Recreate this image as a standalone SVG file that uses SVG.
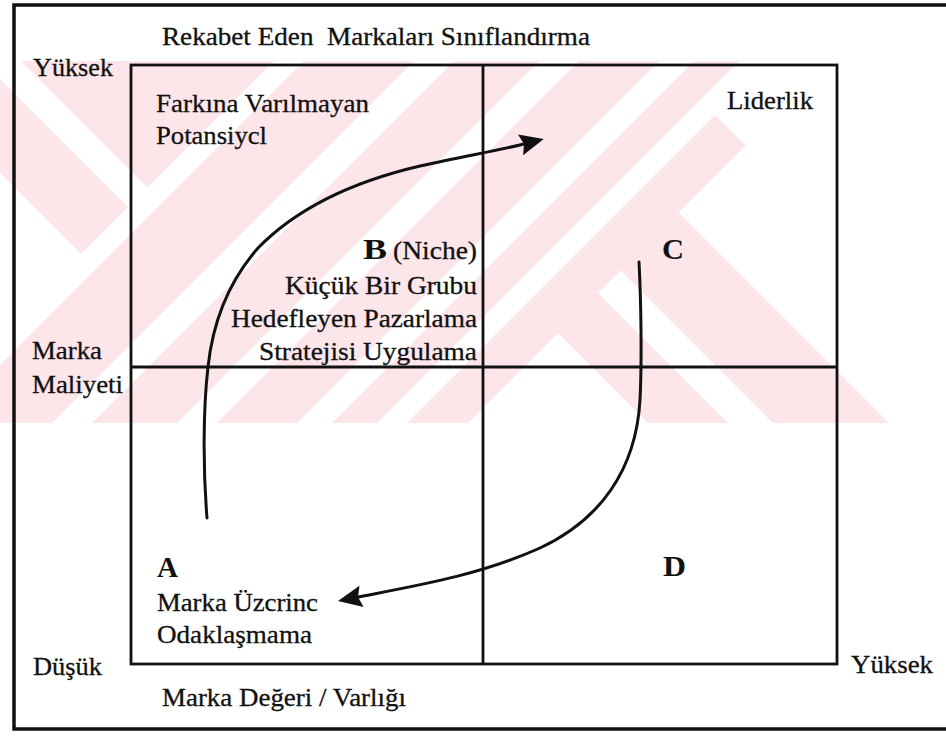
<svg xmlns="http://www.w3.org/2000/svg" width="946" height="736" viewBox="0 0 946 736">
<style>
.t{font-family:"Liberation Serif","Times New Roman",serif;font-size:25px;fill:#111;stroke:#111;stroke-width:0.3;white-space:pre}
.b{font-family:"Liberation Serif","Times New Roman",serif;font-size:30px;font-weight:bold;fill:#111}
.frame{fill:none;stroke:#111;stroke-width:3.5}
.grid{fill:none;stroke:#111;stroke-width:2.8}
.curve{fill:none;stroke:#111;stroke-width:3;stroke-linecap:round}
.wm{fill:#fde6ea}
</style>
<defs>
<marker id="ah" markerUnits="userSpaceOnUse" markerWidth="24" markerHeight="24" viewBox="0 0 20 18" refX="3" refY="9" orient="auto">
<path d="M0,0 L20,9 L0,18 L3,9 z" fill="#111"/>
</marker>
<clipPath id="wmclip"><rect x="0" y="61" width="946" height="362"/></clipPath>
</defs>
<rect width="946" height="736" fill="#ffffff"/>
<g id="watermark" clip-path="url(#wmclip)">
<polygon class="wm" points="21,61 274,61 147.5,187.5"/>
<polygon class="wm" points="-112,61 -18,61 128,207 81,254"/>
<polygon class="wm" points="304,61 414,61 52,423 -58,423"/>
<polygon class="wm" points="454,61 539,61 177,423 92,423"/>
<polygon class="wm" points="579,61 659,61 297,423 217,423"/>
<polygon class="wm" points="694,61 739,61 377,423 332,423"/>
<polygon class="wm" points="715,115 745.5,145.5 468,423 407,423"/>
<polygon class="wm" points="598,293 728,423 648,423 558,333"/>
<polygon class="wm" points="678.5,212.5 889,423 773,423 620.5,270.5"/>
</g>
<g id="frame">
<path class="frame" d="M946,5 H14 V729 H946"/>
</g>
<g id="matrix">
<rect class="grid" x="131" y="65" width="706" height="599"/>
<line class="grid" x1="483" y1="65" x2="483" y2="664"/>
<line class="grid" x1="131" y1="367" x2="837" y2="367"/>
</g>
<g id="labels">
<text class="t" x="162" y="45" textLength="428" lengthAdjust="spacingAndGlyphs">Rekabet Eden  Markaları Sınıflandırma</text>
<text class="t" x="33" y="76" textLength="80" lengthAdjust="spacingAndGlyphs">Yüksek</text>
<text class="t" x="32" y="359" textLength="70" lengthAdjust="spacingAndGlyphs">Marka</text>
<text class="t" x="32" y="393" textLength="91" lengthAdjust="spacingAndGlyphs">Maliyeti</text>
<text class="t" x="33" y="675" textLength="69" lengthAdjust="spacingAndGlyphs">Düşük</text>
<text class="t" x="851" y="673" textLength="82" lengthAdjust="spacingAndGlyphs">Yüksek</text>
<text class="t" x="162" y="706" textLength="244" lengthAdjust="spacingAndGlyphs">Marka Değeri / Varlığı</text>
</g>
<g id="quadrant-top-left">
<text class="t" x="156" y="112" textLength="213" lengthAdjust="spacingAndGlyphs">Farkına Varılmayan</text>
<text class="t" x="156" y="144" textLength="111" lengthAdjust="spacingAndGlyphs">Potansiycl</text>
</g>
<g id="quadrant-top-right">
<text class="t" x="727" y="109" textLength="86" lengthAdjust="spacingAndGlyphs">Liderlik</text>
</g>
<g id="node-B">
<text class="b" x="363" y="259" textLength="24" lengthAdjust="spacingAndGlyphs">B</text>
<text class="t" x="393" y="259" textLength="84" lengthAdjust="spacingAndGlyphs">(Niche)</text>
<text class="t" x="285" y="294" textLength="192" lengthAdjust="spacingAndGlyphs">Küçük Bir Grubu</text>
<text class="t" x="231" y="327" textLength="246" lengthAdjust="spacingAndGlyphs">Hedefleyen Pazarlama</text>
<text class="t" x="259" y="360" textLength="218" lengthAdjust="spacingAndGlyphs">Stratejisi Uygulama</text>
</g>
<g id="node-C">
<text class="b" x="662" y="259" textLength="22" lengthAdjust="spacingAndGlyphs">C</text>
</g>
<g id="node-A">
<text class="b" x="157" y="577" textLength="21" lengthAdjust="spacingAndGlyphs">A</text>
<text class="t" x="157" y="611" textLength="161" lengthAdjust="spacingAndGlyphs">Marka Üzcrinc</text>
<text class="t" x="157" y="643" textLength="155" lengthAdjust="spacingAndGlyphs">Odaklaşmama</text>
</g>
<g id="node-D">
<text class="b" x="663" y="576" textLength="23" lengthAdjust="spacingAndGlyphs">D</text>
</g>
<g id="connectors">
<path class="curve" marker-end="url(#ah)" d="M207,518 C203,470 203,410 208,367 C213,320 230,280 258,248 C300,205 360,180 420,166 C460,157 500,150 524,144"/>
<path class="curve" marker-end="url(#ah)" d="M639,262 C641,300 642,360 640,400 C636,470 600,520 540,548 C480,575 420,585 358,597"/>
</g>
</svg>
